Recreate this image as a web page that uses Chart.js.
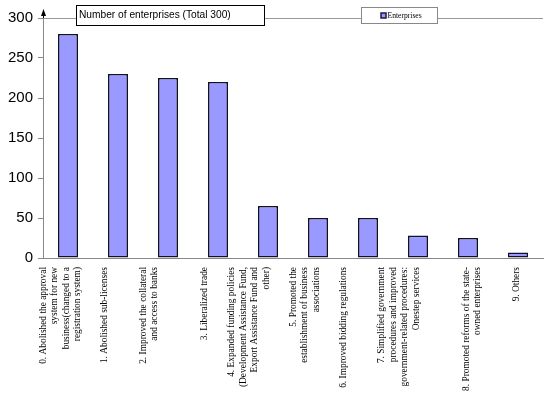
<!DOCTYPE html>
<html><head><meta charset="utf-8">
<script src="https://cdn.jsdelivr.net/npm/chart.js@4.4.0/dist/chart.umd.min.js"></script>
<style>html,body{margin:0;padding:0;background:#fff}#wrap{width:550px;height:398px;position:relative}</style>
</head><body><div id="wrap"><canvas id="c"></canvas></div>
<script>
const categories = [
  ["0. Abolished the approval","system for new","business(changed to a","registration system)"],
  ["1. Abolished sub-licenses"],
  ["2. Improved the collateral","and access to banks"],
  ["3. Liberalized trade"],
  ["4. Expanded funding policies","(Development Assistance Fund,","Export Assistance Fund and","other)"],
  ["5. Promoted the","establishment of business","associations"],
  ["6. Improved bidding regulations"],
  ["7. Simplified government","procedures and improved","government-related procedures:","Onestep services"],
  ["8. Promoted reforms of the state-","owned enterprises"],
  ["9. Others"]
];
const enterprises = [280, 230, 225, 220, 65, 50, 50, 28, 25, 7];
const yTicks = [0, 50, 100, 150, 200, 250, 300];
const seriesName = "Enterprises";
const titleText = "Number of enterprises (Total 300)";

// label placement tweak (number of leading blank lines per label), layout only
const labelShift = [1, 2, 1, 2, 0, 1, 1, 0, 3, 3];

const decor = {
  id: 'decor',
  afterDraw(chart) {
    const {ctx, chartArea: a} = chart;
    ctx.save();
    // y axis arrow
    const ax = Math.round(a.left) + 0.5;
    ctx.strokeStyle = '#000';
    ctx.lineWidth = 1;
    ctx.beginPath(); ctx.moveTo(ax, a.top); ctx.lineTo(ax, a.top - 4); ctx.stroke();
    ctx.fillStyle = '#000';
    ctx.beginPath();
    ctx.moveTo(ax, a.top - 9);
    ctx.lineTo(ax - 2.5, a.top - 2);
    ctx.lineTo(ax + 2.5, a.top - 2);
    ctx.closePath(); ctx.fill();
    // title box
    ctx.fillStyle = '#fff';
    ctx.fillRect(76.5, 5.5, 188, 20);
    ctx.strokeStyle = '#000';
    ctx.strokeRect(76.5, 5.5, 188, 20);
    ctx.fillStyle = '#000';
    ctx.font = '10.2px "Liberation Sans", Arial, sans-serif';
    ctx.textBaseline = 'middle';
    ctx.textAlign = 'left';
    ctx.fillText(titleText, 79, 15.5);
    // legend box
    ctx.fillStyle = '#fff';
    ctx.fillRect(361.5, 7.5, 76, 16);
    ctx.strokeStyle = '#888';
    ctx.strokeRect(361.5, 7.5, 76, 16);
    ctx.fillStyle = '#9999FF';
    ctx.fillRect(381, 13, 5, 5);
    ctx.strokeStyle = '#1a1a44';
    ctx.lineWidth = 1.5;
    ctx.strokeRect(381, 13, 5, 5);
    ctx.fillStyle = '#000';
    ctx.font = '7.6px "Liberation Serif", "Times New Roman", serif';
    ctx.fillText(seriesName, 387.5, 15.8);
    ctx.restore();
  }
};

new Chart(document.getElementById('c'), {
  type: 'bar',
  data: {
    labels: categories,
    datasets: [{
      label: seriesName,
      data: enterprises,
      backgroundColor: '#9999FF',
      borderColor: '#11112a',
      borderWidth: 1.6,
      borderSkipped: false,
      barPercentage: 0.4,
      categoryPercentage: 1.0
    }]
  },
  options: {
    responsive: true,
    maintainAspectRatio: false,
    animation: false,
    layout: {padding: {top: 18, right: 7, left: 0, bottom: 0}},
    plugins: {legend: {display: false}, title: {display: false}, tooltip: {enabled: false}},
    scales: {
      x: {
        grid: {display: false, drawTicks: false},
        border: {display: true, color: '#888', width: 1},
        ticks: {
          autoSkip: false, minRotation: 90, maxRotation: 90,
          padding: 9, labelOffset: -36, color: '#000',
          font: {family: '"Liberation Serif", "Times New Roman", serif', size: 9.4, lineHeight: 1.22},
          callback: (v, i) => Array(labelShift[i]).fill('').concat(categories[i])
        },
        afterFit: (s) => { s.height = 140; s.paddingLeft = 0; s.paddingRight = 0; }
      },
      y: {
        min: 0, max: 300,
        afterBuildTicks: (s) => { s.ticks = yTicks.map(v => ({value: v})); },
        grid: {
          color: (c) => (c.tick && c.tick.value === 300) ? '#999' : 'rgba(0,0,0,0)',
          tickColor: '#888', tickLength: 5, drawTicks: true
        },
        border: {display: true, color: '#888', width: 1},
        ticks: {
          padding: 5, color: '#000',
          font: {family: '"Liberation Sans", Arial, sans-serif', size: 15}
        },
        afterFit: (s) => { s.width = 43; }
      }
    }
  },
  plugins: [decor]
});
</script>
</body></html>
